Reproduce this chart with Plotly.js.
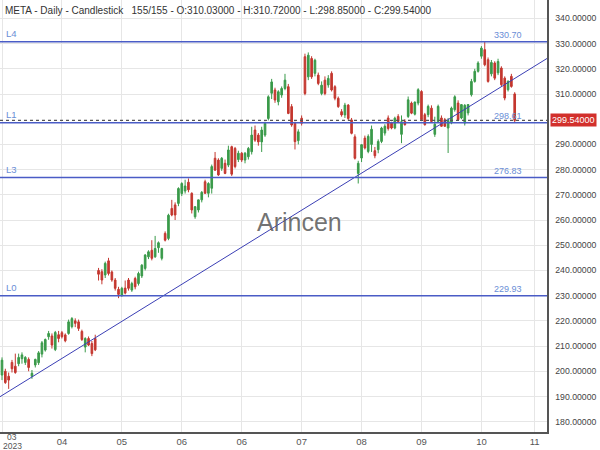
<!DOCTYPE html>
<html>
<head>
<meta charset="utf-8">
<script src="https://cdn.plot.ly/plotly-3.0.1.min.js"></script>
<style>html,body{margin:0;padding:0;background:#fff;}#chart{width:600px;height:450px;}</style>
</head>
<body>
<div id="chart"></div>
<script>
const symbol = "META";
const openV = [198.5,200,198,203.5,202,203,205,203.5,204.7,198,202.5,203.4,206.8,208.4,213.7,214,208.6,214.5,215.3,214.4,215,217.7,220,219.6,215.8,209.6,213,211,213,
240,239.5,238.2,243.8,239.4,236.2,232.5,230.2,233,236.2,232.2,236.8,234.8,237.8,240.8,245.4,248,245.4,249,244.8,254.7,252.7,264.6,266,266.6,270.5,
271.5,275,270.6,261.3,264,268,275.2,270.6,272.6,284.5,283.8,280.5,282.5,281.8,289.1,288.4,284,286.5,283.8,285.1,287.1,295.7,293.7,291,293.7,300.3,310.3,311.6,306.9,309.6,312.2,312.9,305,298.4,291.5,300.4,
324.8,316.8,324.1,318.2,317.5,310.2,315.5,313.6,318.2,312.9,308.3,303,301.7,305.6,299.7,293,278.5,284.6,292.5,287.2,290,287.5,287.9,291.2,294.5,300.5,298.5,296.5,301.1,294,299.1,301.1,306.4,302,306.4,311,301.8,301.8,304.4,294,299.1,300.5,299.8,296.5,298.5,303.8,306.4,300.5,298.5,302.5,309.7,315,319,325,327.6,323.6,318,322.3,318.4,320.3,316.3,311.7,317,310.03];
const highV = [205.5,201,199.5,204.5,207,207,207.5,206,205.5,200.5,205,208,212,213,216,215,216,216,216,215,220.5,221.5,221,220.5,216.5,213.5,213.8,212,214.5,
241,240.5,243.5,245,240,237,233.5,233.5,236,237,235.5,237.5,239.5,242.5,246.5,248,252,253.7,251.5,249,255.5,262.5,268,267,273,275,
276,276.5,271,265.5,267.5,271.5,276,275,282,287,284.5,285,284,289.5,289.5,289,287.5,287,287,289,297,297.5,294.5,297,299,309.5,316,312.5,311.5,313,318,314,306,299,296,301.5,
326,326.5,325,324,318.5,315,317,317.5,319,313.5,309,304,306.5,306,300.5,294,283.5,290,293.5,294,297.5,289,292,297,298,301.5,299,301,302,301.5,300,309,307,307,312.3,311.5,302.5,305.8,305.5,301,305.8,301.5,300.5,300.5,305,309.5,307.5,306,306,306,316,320,323,329,330.7,324.5,323.5,323,324,321,317,315.5,318,310.72];
const lowV = [196.5,195,193,199.5,199,202,203,202.5,200,197,201.5,202.5,205.5,207.8,212.5,209,208,211.5,213,211.5,214.5,217,217.5,216,212,207.5,210,206,208,
236,234.5,237,238,235.5,232,229,229.5,230.5,232,231.5,232.5,234,237,240,244.5,244,245,247,244,251.5,252,261.5,260,265.5,269.5,
270.5,271,262.6,260.5,263,267,270.4,269,270.5,279.5,277.5,279.5,278.2,281,277.5,280.5,283,283,282.5,284,286,291,289.5,287,293,299.5,308,306.5,305.5,308.5,311.5,302,297,288,290,297.5,
309.5,315.5,316,317,313.5,309.5,309.5,312.5,311,307.5,304.5,301,300.5,299.5,294,284,274.5,283,288,286.5,287,284.5,286.5,290.5,293.5,295.5,296,296,298.5,290.5,297.5,300.5,302,301.5,305.5,299.5,297.5,300.8,299,293,298.5,297,297,286.6,298,303,299.5,300,297.5,301.5,309,314.5,318.5,324,321,314.5,317,315.5,317.5,313,307.5,311,312.5,298.85];
const closeV = [204.4,195.5,196.5,201,199.5,205.5,206.5,205.5,201.5,199.2,204.7,207.3,211.3,212.6,215,210.4,215.4,213,213.7,212.1,219.6,220.9,219,217,212.6,213,210.4,207,208.5,
238.5,236.2,242.8,238.8,236.2,232.9,230.5,232.9,231,232.9,234.8,233.5,238.8,242.1,246.1,247.4,244.8,248.7,251,248.7,252,261.9,262,262,272.5,274.5,
273.5,272,264,265.3,268,271,270.6,274.5,281.2,279.8,277.9,284.5,278.5,287.8,278.2,281.2,286.5,283.8,286.5,288.4,293.7,291.7,291,295.7,298.4,308.9,314.8,307.6,310.9,312.2,315.5,302.3,297.7,291.1,295,298.4,
310.2,325.4,316.8,323.4,314.2,313.5,310.2,316.2,311.6,308.3,305,301.7,305.6,300.3,294.4,284.5,282.5,289.9,288.6,293.2,296,285.5,291.2,296.5,297.2,296.3,296.5,300.4,299.1,299,297.8,307.7,302.4,306.8,311.7,299.8,297.8,305.1,299.1,298,305.1,297.2,297.2,299.5,304.4,308.9,299.8,305.8,305.5,305.8,315,319,322.3,328.2,321.6,315,322.5,316.3,322.9,313.7,308.4,315,313,299.54];

const tickIdx = [0,18,36,54,72,90,108,126,144,160];
const tickLabels = ["","04","05","06","06","07","08","09","10","11"];
const firstMonthLabel = "03";
const yearLabel = "2023";
const yTickVals = [180,190,200,210,220,230,240,250,260,270,280,290,310,320,330,340];

const levelNames = ["L4","L1","L3","L0"];
const levelValues = [330.70, 298.61, 276.83, 229.93];

const trendX = [-0.6, 163.7];
const trendY = [189.9, 324.1];

const n = closeV.length;
const xIdx = Array.from({length: n}, (_, i) => i);
const lastO = openV[n-1], lastH = highV[n-1], lastL = lowV[n-1], lastC = closeV[n-1];

const green = '#3a9a4a', red = '#c4372f', lvlColor = '#4a5cc6', lvlText = '#6a8ed6';
const fam = 'Liberation Sans, Arial';

const traces = [
  {
    type: 'candlestick', x: xIdx, open: openV, high: highV, low: lowV, close: closeV,
    increasing: {line: {color: green, width: 1}, fillcolor: green},
    decreasing: {line: {color: red, width: 1}, fillcolor: red},
    whiskerwidth: 0, showlegend: false, hoverinfo: 'skip'
  },
  {
    type: 'scatter', mode: 'lines', x: trendX, y: trendY,
    line: {color: '#3b3fb5', width: 1}, showlegend: false, hoverinfo: 'skip'
  }
];

const shapes = levelValues.map(v => ({
  type: 'line', xref: 'paper', x0: 0, x1: 1, yref: 'y', y0: v, y1: v,
  line: {color: lvlColor, width: 1.5}
}));
shapes.push({type: 'line', xref: 'paper', x0: 0, x1: 1, yref: 'y', y0: lastC, y1: lastC,
  line: {color: '#555', width: 1.2, dash: 'dot'}});

const annotations = [];
levelNames.forEach((nm, k) => {
  annotations.push({xref: 'paper', x: 0.008, yref: 'y', y: levelValues[k], xanchor: 'left', yanchor: 'bottom',
    text: nm, showarrow: false, font: {family: fam, size: 9.5, color: lvlText}, yshift: 1});
  annotations.push({xref: 'paper', x: 0.899, yref: 'y', y: levelValues[k], xanchor: 'left', yanchor: 'bottom',
    text: levelValues[k].toFixed(2), showarrow: false, font: {family: fam, size: 9, color: lvlText}, yshift: 0});
});
annotations.push({xref: 'paper', x: 0.006, yref: 'paper', y: 1, xanchor: 'left', yanchor: 'top', yshift: -3,
  text: symbol + ' - Daily - Candlestick   ' + n + '/' + n + ' - O:' + lastO.toFixed(5) + ' - H:' + lastH.toFixed(5) +
        ' - L:' + lastL.toFixed(5) + ' - C:' + lastC.toFixed(5),
  showarrow: false, font: {family: fam, size: 10, color: '#333'}});
annotations.push({xref: 'paper', x: 0.547, yref: 'paper', y: 0.486, xanchor: 'center', yanchor: 'middle',
  text: 'Arincen', showarrow: false, font: {family: fam, size: 25, color: 'rgba(90,90,90,0.85)'}});
annotations.push({xref: 'paper', x: 1, yref: 'y', y: lastC, xanchor: 'left', yanchor: 'middle', xshift: 3,
  text: lastC.toFixed(5), showarrow: false, bgcolor: '#d2302c', borderpad: 1,
  font: {family: fam, size: 9, color: '#fff'}});
annotations.push({xref: 'paper', x: 0.022, yref: 'paper', y: -0.0105, xanchor: 'center', yanchor: 'middle',
  text: firstMonthLabel, showarrow: false, borderpad: 0, font: {family: fam, size: 8.5, color: '#555'}});
annotations.push({xref: 'paper', x: 0.022, yref: 'paper', y: -0.0315, xanchor: 'center', yanchor: 'middle',
  text: yearLabel, showarrow: false, borderpad: 0, font: {family: fam, size: 8.5, color: '#555'}});

const layout = {
  width: 600, height: 450,
  margin: {l: 0, r: 53, t: 0, b: 18},
  paper_bgcolor: '#fff', plot_bgcolor: '#fff',
  font: {family: fam, size: 10, color: '#444'},
  xaxis: {
    range: [-0.6, 163.7], tickmode: 'array', tickvals: tickIdx, ticktext: tickLabels,
    showgrid: true, gridcolor: '#e6e6e6', showline: true, linecolor: '#555', linewidth: 1.5,
    zeroline: false, ticks: '', rangeslider: {visible: false}, tickfont: {size: 9.5, color: '#555'},
    fixedrange: true
  },
  yaxis: {
    side: 'right', range: [175.9, 347.3], tickmode: 'array', tickvals: yTickVals, tickformat: '.5f',
    showgrid: true, gridcolor: '#e6e6e6', showline: true, linecolor: '#555', linewidth: 1.5,
    zeroline: false, ticks: '', tickfont: {size: 8.7, color: '#444'}, ticklabelstandoff: 5, fixedrange: true
  },
  shapes: shapes,
  annotations: annotations,
  showlegend: false
};

Plotly.newPlot('chart', traces, layout, {displayModeBar: false, staticPlot: true});
</script>
</body>
</html>
